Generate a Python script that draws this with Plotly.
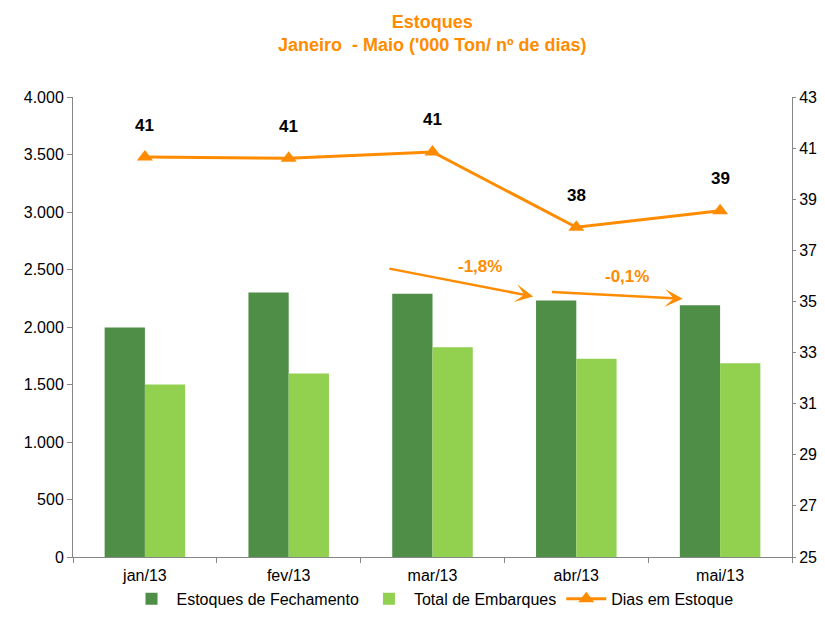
"""
Estoques - Janeiro a Maio
Bar + line chart with secondary axis using Plotly
"""

import plotly.graph_objects as go

# Data
months = ['jan/13', 'fev/13', 'mar/13', 'abr/13', 'mai/13']
estoques_fechamento = [1995, 2300, 2290, 2230, 2190]
total_embarques = [1500, 1595, 1825, 1725, 1685]
dias_estoque = [40.65, 40.6, 40.85, 37.9, 38.55]
dias_labels = ['41', '41', '41', '38', '39']

# Variation arrows: (x0, y0, x1, y1) in category index / left axis units
var_labels = ['-1,8%', '-0,1%']
var_label_pos = [(2.33, 2530), (3.35, 2440)]
var_arrows = [(1.69, 2510, 2.7, 2265), (2.82, 2305, 3.74, 2245)]

ORANGE = '#ff8c00'
DARK_GREEN = '#4f8e47'
LIGHT_GREEN = '#92d050'
FONT = 'Liberation Sans, Arial, sans-serif'

fig = go.Figure()

# Closing stock bars
fig.add_trace(go.Bar(
    name='Estoques de Fechamento',
    x=months,
    y=estoques_fechamento,
    marker=dict(color=DARK_GREEN, line=dict(width=0)),
    yaxis='y',
))

# Shipments bars
fig.add_trace(go.Bar(
    name='Total de Embarques',
    x=months,
    y=total_embarques,
    marker=dict(color=LIGHT_GREEN, line=dict(width=0)),
    yaxis='y',
))

# Days in stock line (secondary axis)
fig.add_trace(go.Scatter(
    name='Dias em Estoque',
    x=months,
    y=dias_estoque,
    mode='lines+markers',
    line=dict(color=ORANGE, width=3),
    marker=dict(symbol='triangle-up', size=14, color=ORANGE),
    yaxis='y2',
))

# Title (two lines, above plot area)
annotations = [
    dict(
        text='<b>Estoques<br>Janeiro  - Maio (\'000 Ton/ nº de dias)</b>',
        x=0.5, y=1.139, xref='paper', yref='paper',
        xanchor='center', yanchor='middle',
        showarrow=False,
        font=dict(size=18, color=ORANGE, family=FONT),
    )
]

# Value labels above line points
for m, v, lbl in zip(months, dias_estoque, dias_labels):
    annotations.append(dict(
        text=f'<b>{lbl}</b>', x=m, y=v, xref='x', yref='y2',
        showarrow=False, yshift=32,
        font=dict(size=17, color='#000000', family=FONT),
    ))

# Variation arrows and labels
for (x0, y0, x1, y1), (lx, ly), lbl in zip(var_arrows, var_label_pos, var_labels):
    annotations.append(dict(
        x=x1, y=y1, ax=x0, ay=y0, xref='x', yref='y', axref='x', ayref='y',
        text='', showarrow=True, arrowhead=3, arrowsize=1.2,
        arrowwidth=2.5, arrowcolor=ORANGE,
    ))
    annotations.append(dict(
        text=f'<b>{lbl}</b>', x=lx, y=ly, xref='x', yref='y',
        showarrow=False,
        font=dict(size=17, color=ORANGE, family=FONT),
    ))

fig.update_layout(
    width=809,
    height=609,
    paper_bgcolor='white',
    plot_bgcolor='white',
    font=dict(family=FONT, size=16, color='#000000'),
    separators=',.',
    barmode='group',
    bargap=0.44,
    bargroupgap=0,
    margin=dict(l=65, r=25, t=89, b=60, autoexpand=False),
    xaxis=dict(
        showline=True, linecolor='#868686', linewidth=1,
        ticks='outside', tickson='boundaries', ticklen=5, tickcolor='#868686',
        showgrid=False,
        tickfont=dict(size=16),
        ticklabelstandoff=4,
        automargin=False,
    ),
    yaxis=dict(
        range=[0, 4000], dtick=500, tickformat=',d',
        showline=True, linecolor='#868686', linewidth=1,
        ticks='outside', ticklen=5, tickcolor='#868686',
        showgrid=False, zeroline=False,
        tickfont=dict(size=16),
        automargin=False,
    ),
    yaxis2=dict(
        range=[25, 43], tick0=25, dtick=2, overlaying='y', side='right',
        showline=True, linecolor='#868686', linewidth=1,
        ticks='outside', ticklen=3, tickcolor='#868686',
        showgrid=False, zeroline=False,
        tickfont=dict(size=16),
        automargin=False,
    ),
    legend=dict(
        orientation='h', x=0.5, xanchor='center', y=-0.128, yanchor='bottom',
        font=dict(size=16),
        itemwidth=40,
    ),
    annotations=annotations,
)

fig.write_html('out.html')
